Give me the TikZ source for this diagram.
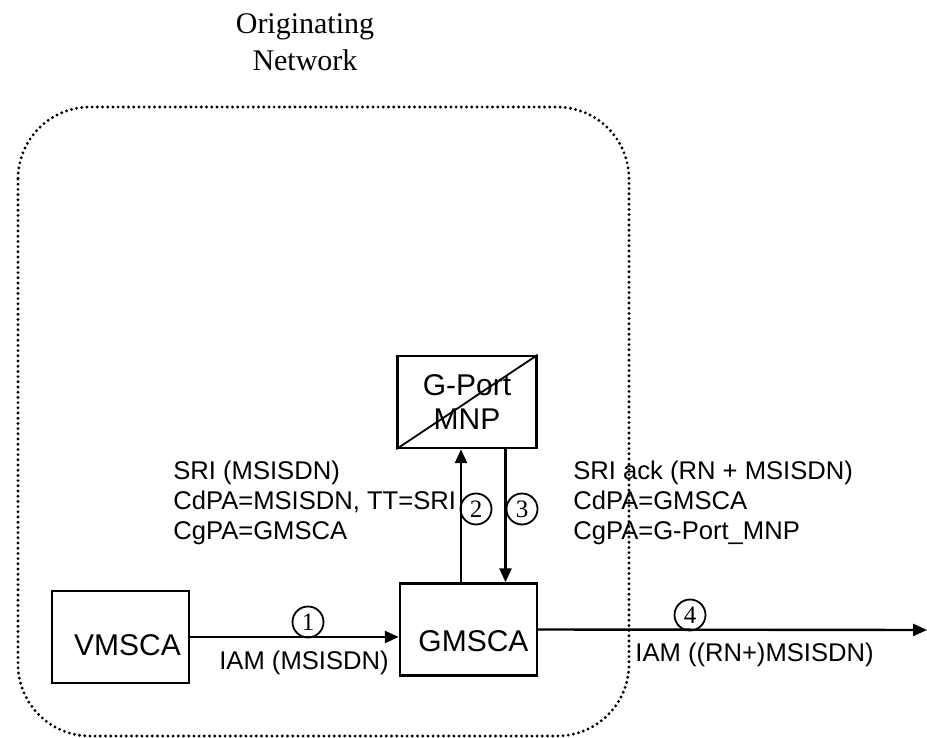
\documentclass[tikz,border=0pt]{standalone}
\usepackage{fontspec}
\setmainfont{Liberation Sans}
\newfontfamily\timesfont{Liberation Serif}
\usetikzlibrary{arrows.meta}
\tikzset{
  entity/.style={draw,line width=1.2pt,minimum height=46pt,inner sep=0pt,font=\fontsize{15}{17}\selectfont},
  entitytext/.style={font=\fontsize{15}{17}\selectfont},
  msg/.style={line width=1.2pt,-{Triangle[length=7pt,width=6pt]}},
  stepno/.style={circle,draw,line width=0.9pt,minimum size=15.5pt,inner sep=0pt,font=\timesfont\fontsize{12.5}{13}\selectfont},
  params/.style={inner sep=0pt,align=left,anchor=west,font=\fontsize{12.8}{15}\selectfont},
}
\begin{document}
\begin{tikzpicture}[x=0.5pt,y=-0.5pt]
 \useasboundingbox (0,0) rectangle (927,738);
 \draw[line width=1.6pt,line cap=round,dash pattern=on 0pt off 2.6pt,rounded corners=36pt] (18,107) rectangle (629,736);
 \node[align=center,font=\timesfont\fontsize{15}{18.5}\selectfont] (title) at (305,42) {Originating\\Network};
 \node[entity,minimum width=68.5pt,label={[entitytext,shift={(3.5pt,-4pt)}]center:VMSCA}] (vmsc) at (120.5,637) {};
 \node[entity,minimum width=68.5pt,label={[entitytext,shift={(2.5pt,-6pt)}]center:GMSCA}] (gmsc) at (468.5,629.5) {};
 \node[entity,minimum width=69.5pt,align=center] (gport) at (467,402) {G-Port\\MNP};
 \draw[line width=0.9pt] (gport.south west) -- (gport.north east);
 \draw[msg] (vmsc.east) -- (vmsc.east -| gmsc.west);
 \draw[msg] ([xshift=-3.75pt]gmsc.north) -- ([xshift=-3.75pt]gmsc.north |- gport.south);
 \draw[msg] ([xshift=19.25pt]gport.south) -- ([xshift=19.25pt]gport.south |- gmsc.north);
 \coordinate (exit) at (927,630);
 \draw[msg] (gmsc.east) -- (exit);
 \node[stepno] (s1) at (308,622) {1};
 \node[stepno] (s2) at (476,509) {2};
 \node[stepno] (s3) at (522,509) {3};
 \node[stepno] (s4) at (690,615) {4};
 \node[params,anchor=center] (iam) at (304,663) {IAM (MSISDN)};
 \node[params] (iamrn) at (635,655) {IAM ((RN+)MSISDN)};
 \node[params] (sri) at (173,503) {SRI (MSISDN)\\CdPA=MSISDN, TT=SRI\\CgPA=GMSCA};
 \node[params] (sriack) at (573,503) {SRI ack (RN + MSISDN)\\CdPA=GMSCA\\CgPA=G-Port\_MNP};
\end{tikzpicture}
\end{document}
